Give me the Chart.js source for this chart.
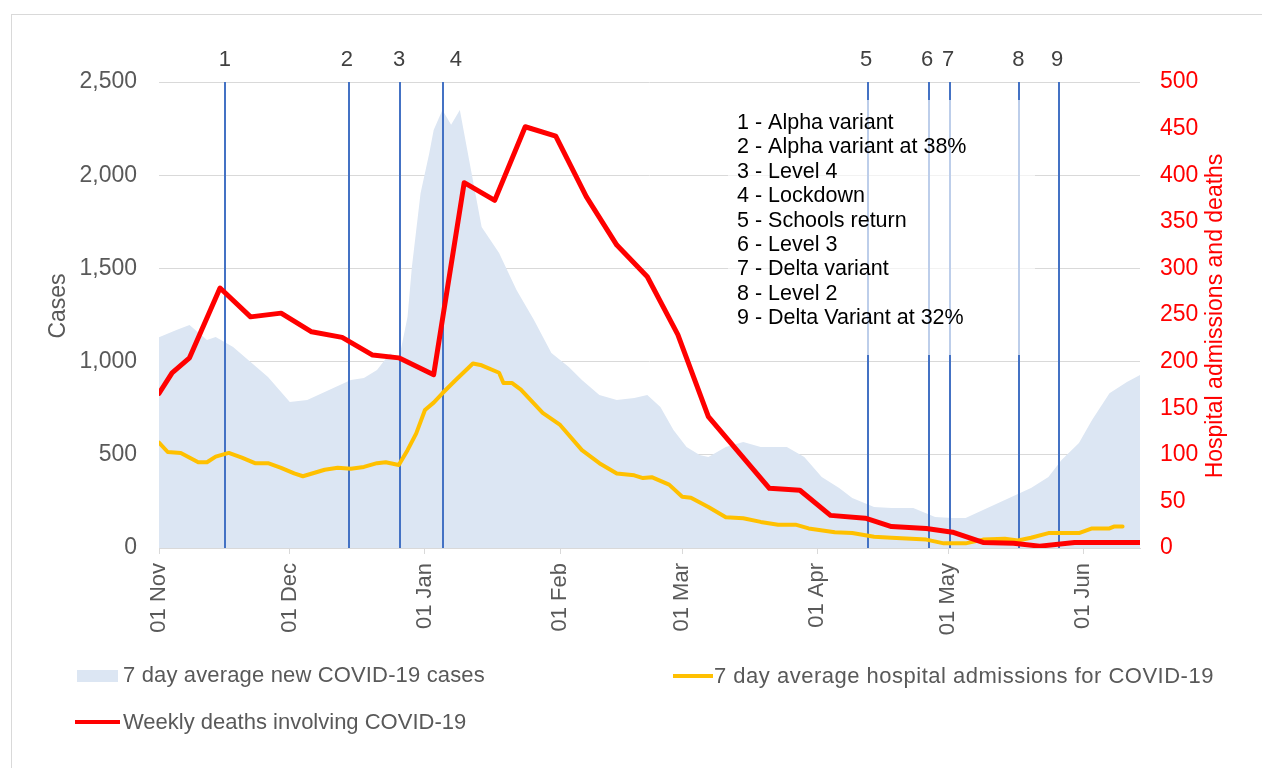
<!DOCTYPE html>
<html>
<head>
<meta charset="utf-8">
<script src="https://cdn.jsdelivr.net/npm/chart.js@4.4.1/dist/chart.umd.min.js"></script>
<style>
  html, body { margin: 0; padding: 0; background: #fff; overflow: hidden; }
  #wrap { position: relative; width: 1262px; height: 768px; }
  #frame { position: absolute; left: 11px; top: 14px; width: 1300px; height: 800px; border: 1px solid #d9d9d9; box-sizing: border-box; }
  canvas { position: absolute; left: 0; top: 0; }
  .lg { position: absolute; font-family: "Liberation Sans", Arial, sans-serif; font-size: 22px; color: #595959; white-space: nowrap; line-height: 26px; }
  .sw { position: absolute; }
</style>
</head>
<body>
<div id="wrap">
  <div id="frame"></div>
  <canvas id="c" width="1262" height="768"></canvas>
  <div class="sw" style="left:77px;top:670px;width:41px;height:12px;background:#dce6f3;"></div>
  <div class="lg" style="left:123px;top:662px;letter-spacing:0.15px;">7 day average new COVID-19 cases</div>
  <div class="sw" style="left:673px;top:674px;width:40px;height:4px;background:#ffc000;"></div>
  <div class="lg" style="left:714px;top:663px;letter-spacing:0.5px;">7 day average hospital admissions for COVID-19</div>
  <div class="sw" style="left:75px;top:720px;width:45px;height:4px;background:#ff0000;"></div>
  <div class="lg" style="left:123px;top:709px;">Weekly deaths involving COVID-19</div>
</div>
<script>
// ---- data (x = days since 01 Nov) ----
const monthStartDays = [0, 30, 61, 92, 120, 151, 181, 212];
const monthLabels = ['01 Nov', '01 Dec', '01 Jan', '01 Feb', '01 Mar', '01 Apr', '01 May', '01 Jun'];

const caseDays = [0,4,7,11,13,17,21,25,30,34,39,44,47,50,53,55,57,58,60,62,63,65,67,69,71,74,78,82,86,90,94,97,101,105,109,112,115,118,121,124,126,130,134,138,144,148,152,156,159,164,168,173,178,182,185,189,195,200,204,207,211,214,218,222,225];
const caseValues = [1130,1170,1196,1116,1132,1078,998,917,783,794,848,901,912,955,1045,1010,1239,1508,1904,2119,2243,2350,2270,2350,2098,1722,1583,1384,1223,1046,971,901,821,794,805,821,756,633,542,499,488,542,569,542,542,488,381,322,268,220,215,215,166,161,161,204,268,322,381,472,563,687,830,890,928];

const admDays = [0,2,5,9,11,13,16,19,22,25,28,31,33,38,41,44,47,50,52,55,57,59,61,63,65,68,72,74,78,79,81,83,88,92,97,101,105,109,111,113,117,120,122,126,130,134,138,142,146,149,155,159,164,168,176,180,185,189,194,197,200,204,207,211,214,218,219,221];
const admValues = [113,103,102,92,92,98,102,97,91,91,86,80,77,84,86,85,87,91,92,89,105,123,148,156,166,180,198,196,188,177,177,170,145,132,105,91,80,78,75,76,68,55,54,44,33,32,28,25,25,21,17,16,12,11,9,5,5,9,10,8,11,16,16,16,21,21,23,23];

const deathDays = [0,3,7,14,21,28,35,42,49,55,63,70,77,84,91,98,105,112,119,126,140,147,154,162,168,176,182,189,196,202,210,217,225];
const deathValues = [166,188,204,279,248,252,232,226,207,204,186,392,373,452,442,377,325,291,229,141,64,62,35,32,23,21,17,6,5,2,6,6,6];

const markerDays = [15.1, 43.6, 55.3, 65.2, 162.5, 176.7, 181.5, 197.3, 206.5];
const markerLabelDays = [15.1, 43.1, 55.1, 68.1, 162.2, 176.2, 181.0, 197.1, 206.0];
const markerLabels = ['1','2','3','4','5','6','7','8','9'];
const noteLines = ['1 - Alpha variant','2 - Alpha variant at 38%','3 - Level 4','4 - Lockdown','5 - Schools return','6 - Level 3','7 - Delta variant','8 - Level 2','9 - Delta Variant at 32%'];

const leftTitle = 'Cases';
const rightTitle = 'Hospital admissions and deaths';

const toXY = (xs, ys) => xs.map((d, i) => ({ x: d, y: ys[i] }));
const FONT = '"Liberation Sans", Arial, sans-serif';

const overlay = {
  id: 'overlay',
  afterDatasetDraw(chart, args) {
    if (args.index !== 2) return;
    const { ctx, chartArea, scales: { x } } = chart;
    ctx.save();
    ctx.strokeStyle = '#4472c4';
    ctx.lineWidth = 2;
    markerDays.forEach(d => {
      const px = Math.round(x.getPixelForValue(d));
      ctx.beginPath();
      ctx.moveTo(px, chartArea.top);
      ctx.lineTo(px, chartArea.bottom);
      ctx.stroke();
    });
    ctx.fillStyle = 'rgba(255,255,255,0.65)';
    ctx.fillRect(728, 100, 307, 255);
    ctx.restore();
  },
  afterDraw(chart) {
    const { ctx, scales: { x } } = chart;
    ctx.save();
    ctx.font = '22px ' + FONT;
    ctx.fillStyle = '#404040';
    ctx.textAlign = 'center';
    ctx.textBaseline = 'middle';
    markerLabels.forEach((t, i) => ctx.fillText(t, x.getPixelForValue(markerLabelDays[i]), 60));
    ctx.font = '21.5px ' + FONT;
    ctx.fillStyle = '#000000';
    ctx.textAlign = 'left';
    noteLines.forEach((t, i) => ctx.fillText(t, 737, 123 + i * 24.4));
    // axis titles
    ctx.font = '23px ' + FONT;
    ctx.textAlign = 'center';
    ctx.save();
    ctx.translate(59, 306);
    ctx.rotate(-Math.PI / 2);
    ctx.fillStyle = '#595959';
    ctx.fillText(leftTitle, 0, 0);
    ctx.restore();
    ctx.save();
    ctx.translate(1216, 316);
    ctx.rotate(-Math.PI / 2);
    ctx.fillStyle = '#ff0000';
    ctx.fillText(rightTitle, 0, 0);
    ctx.restore();
    ctx.restore();
  }
};

new Chart(document.getElementById('c'), {
  type: 'line',
  data: {
    datasets: [
      { label: 'Weekly deaths involving COVID-19', data: toXY(deathDays, deathValues), yAxisID: 'y2',
        borderColor: '#ff0000', borderWidth: 5, pointRadius: 0, tension: 0, fill: false,
        borderJoinStyle: 'round', borderCapStyle: 'round' },
      { label: '7 day average hospital admissions for COVID-19', data: toXY(admDays, admValues), yAxisID: 'y2',
        borderColor: '#ffc000', borderWidth: 4, pointRadius: 0, tension: 0, fill: false,
        borderJoinStyle: 'round', borderCapStyle: 'round' },
      { label: '7 day average new COVID-19 cases', data: toXY(caseDays, caseValues), yAxisID: 'y',
        borderWidth: 0, borderColor: 'rgba(0,0,0,0)', backgroundColor: '#dce6f3', pointRadius: 0, tension: 0, fill: 'origin' }
    ]
  },
  options: {
    responsive: false,
    animation: false,
    devicePixelRatio: 1,
    layout: { padding: { top: 82, left: 0, right: 0, bottom: 0 } },
    plugins: { legend: { display: false }, tooltip: { enabled: false } },
    scales: {
      x: {
        type: 'linear', min: 0, max: 225,
        afterBuildTicks: s => { s.ticks = monthStartDays.map(v => ({ value: v })); },
        afterFit: s => { s.height = 220; },
        ticks: {
          autoSkip: false, minRotation: 90, maxRotation: 90, padding: 9,
          color: '#595959', font: { family: FONT, size: 22 },
          callback: (v) => { const i = monthStartDays.indexOf(v); return i >= 0 ? monthLabels[i] : ''; }
        },
        grid: { drawOnChartArea: false, drawTicks: true, tickLength: 6, color: '#d9d9d9' },
        border: { color: '#d9d9d9', width: 1 }
      },
      y: {
        position: 'left', min: 0, max: 2500,
        afterFit: s => { s.width = 159; },
        ticks: { stepSize: 500, padding: 22, color: '#595959', font: { family: FONT, size: 23 },
          callback: v => v.toLocaleString('en-US') },
        grid: { color: '#d9d9d9', drawTicks: false },
        border: { display: false }
      },
      y2: {
        position: 'right', min: 0, max: 500,
        afterFit: s => { s.width = 122; },
        ticks: { stepSize: 50, padding: 20, color: '#ff0000', font: { family: FONT, size: 23 } },
        grid: { drawOnChartArea: false, drawTicks: false },
        border: { display: false }
      }
    }
  },
  plugins: [overlay]
});
</script>
</body>
</html>
